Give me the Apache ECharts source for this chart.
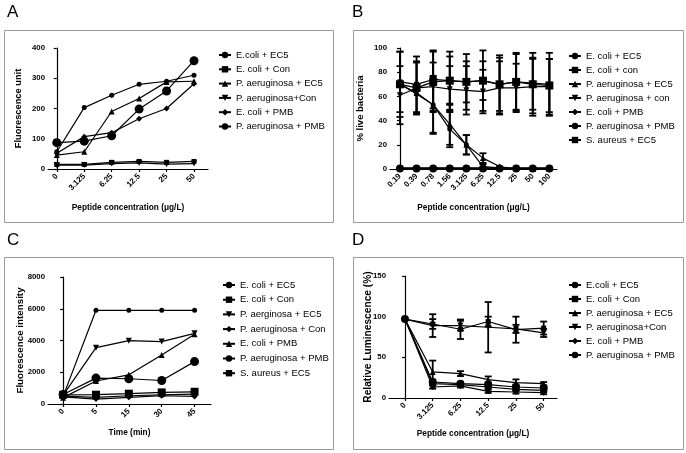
<!DOCTYPE html>
<html><head><meta charset="utf-8">
<script src="https://cdn.jsdelivr.net/npm/echarts@6/dist/echarts.min.js"></script>
<style>html,body{margin:0;padding:0;background:#fff}#c{width:686px;height:453px}</style>
</head><body><div id="c"></div>
<script>
// ---------- Panel A ----------
const aCats = ['0','3.125','6.25','12.5','25','50'];
const aEcoliEC5 = [57, 203, 244, 280, 290, 310];
const aEcoliCon = [15, 15, 22, 25, 22, 25];
const aPaeEC5   = [46, 57, 190, 233, 288, 290];
const aPaeCon   = [13, 13, 18, 20, 16, 18];
const aEcoliPMB = [52, 107, 120, 166, 200, 282];
const aPaePMB   = [87, 92, 110, 198, 258, 358];
const aYTicks = [0, 100, 200, 300, 400];

// ---------- Panel B ----------
const bCats = ['0.19','0.39','0.78','1.56','3.125','6.25','12.5','25','50','100'];
const bEcoliEC5 = [70, 62, 53, 33, 20, 2, 1, 0, 0, 0];
const bEcoliEC5Err = [0, 0, 24, 15, 8, 2, 1, 0, 0, 0];
const bEcoliCon = [72, 70, 74, 73, 72, 73, 70, 72, 71, 70];
const bEcoliConErr = [25, 23, 24, 24, 23, 25, 24, 24, 25, 26];
const bPaeEC5 = [70, 63, 53, 37, 20, 9, 2, 0, 0, 0];
const bPaeEC5Err = [0, 0, 23, 17, 8, 4, 0, 0, 0, 0];
const bPaeCon = [61, 67, 68, 66, 65, 64, 67, 67, 68, 68];
const bPaeConErr = [24, 22, 20, 19, 20, 18, 22, 20, 24, 23];
const bEcoliPMB = [1, 1, 1, 1, 1, 1, 1, 1, 1, 1];
const bPaePMB = [0.5, 0.5, 0.5, 0.5, 0.5, 0.5, 0.5, 0.5, 0.5, 0.5];
const bSaurEC5 = [70, 67, 72, 73, 72, 73, 70, 72, 70, 69];
const bSaurEC5Err = [27, 21, 25, 20, 17, 16, 22, 23, 21, 22];
const bYTicks = [0, 20, 40, 60, 80, 100];

// ---------- Panel C ----------
const cCats = ['0','5','15','30','45'];
const cEcoliEC5 = [480, 5900, 5900, 5900, 5900];
const cEcoliCon = [500, 420, 520, 580, 620];
const cPaeEC5   = [560, 3550, 3990, 3930, 4450];
const cPaeCon   = [450, 310, 420, 520, 480];
const cEcoliPMB = [400, 1450, 1840, 3090, 4390];
const cPaePMB   = [600, 1630, 1590, 1480, 2670];
const cSaurEC5  = [580, 585, 650, 730, 770];
const cYTicks = [0, 2000, 4000, 6000, 8000];

// ---------- Panel D ----------
const dCats = ['0','3.125','6.25','12.5','25','50'];
const dEcoliEC5 = [97, 17.6, 16.4, 13.5, 10.7, 9.4];
const dEcoliEC5Err = [0, 2, 2, 2, 2, 2];
const dEcoliCon = [97, 91, 84.5, 94, 84, 86];
const dEcoliConErr = [0, 6, 12, 6, 16, 8];
const dPaeEC5 = [97, 32, 30, 22.5, 18.9, 17.6];
const dPaeEC5Err = [0, 14, 3, 4, 4, 2];
const dPaeCon = [97, 89, 89, 87, 85, 80];
const dPaeConErr = [0, 14, 6, 31, 5, 5];
const dEcoliPMB = [97, 13.5, 14.8, 8.2, 7.4, 6.6];
const dEcoliPMBErr = [0, 2, 2, 2, 2, 2];
const dPaePMB = [97, 19.7, 17.6, 16.4, 13.5, 12.3];
const dPaePMBErr = [0, 3, 2, 3, 3, 2];
const dYTicks = [0, 50, 100, 150];

const FONT = '"Liberation Sans", Arial, sans-serif';
const DOWN = 'path://M0,0L10,0L5,9Z';

const panels = [
  {key:'A', grid:{left:48, top:48, width:160, height:121}, cats:aCats, min:-0.32, max:5.51, yt:aYTicks,
   yname:'Fluorescence unit', ygap:25, ysize:9.3, xname:'Peptide concentration (\u03bcg/L)', xgap:35,
   legend:{left:218, top:50, gap:4.3},
   series:[
    {name:'E.coli + EC5', data:aEcoliEC5, sym:'circle', size:5},
    {name:'E. coli + Con', data:aEcoliCon, sym:'rect', size:5},
    {name:'P. aeruginosa + EC5', data:aPaeEC5, sym:'triangle', size:6},
    {name:'P. aeruginosa+Con', data:aPaeCon, sym:DOWN, size:6},
    {name:'E. coli + PMB', data:aEcoliPMB, sym:'diamond', size:6},
    {name:'P. aeruginosa + PMB', data:aPaePMB, sym:'circle', size:9}
   ]},
  {key:'B', grid:{left:390, top:48, width:167, height:121}, cats:bCats, min:-0.6, max:9.46, yt:bYTicks,
   yname:'% live bacteria', ygap:25, ysize:9.5, xname:'Peptide concentration (\u03bcg/L)', xgap:35,
   legend:{left:568, top:51, gap:4},
   series:[
    {name:'E. coli + EC5', data:bEcoliEC5, err:bEcoliEC5Err, sym:'circle', size:5},
    {name:'E. coli + con', data:bEcoliCon, err:bEcoliConErr, sym:'rect', size:5},
    {name:'P. aeruginosa + EC5', data:bPaeEC5, err:bPaeEC5Err, sym:'triangle', size:6},
    {name:'P. aeruginosa + con', data:bPaeCon, err:bPaeConErr, sym:DOWN, size:6},
    {name:'E. coli + PMB', data:bEcoliPMB, sym:'diamond', size:6},
    {name:'P. aeruginosa + PMB', data:bPaePMB, sym:'circle', size:8},
    {name:'S. aureus + EC5', data:bSaurEC5, err:bSaurEC5Err, sym:'rect', size:8}
   ]},
  {key:'C', grid:{left:48, top:277, width:163, height:127}, cats:cCats, min:-0.46, max:4.5, yt:cYTicks,
   yname:'Fluorescence intensity', ygap:23, ysize:9.8, xname:'Time (min)', xgap:25,
   legend:{left:222, top:280, gap:4.7},
   series:[
    {name:'E. coli + EC5', data:cEcoliEC5, sym:'circle', size:5},
    {name:'E. coli + Con', data:cEcoliCon, sym:'rect', size:5},
    {name:'P. aerginosa + EC5', data:cPaeEC5, sym:DOWN, size:6},
    {name:'P. aeruginosa + Con', data:cPaeCon, sym:'diamond', size:6},
    {name:'E. coli + PMB', data:cEcoliPMB, sym:'triangle', size:6},
    {name:'P. aeruginosa + PMB', data:cPaePMB, sym:'circle', size:9},
    {name:'S. aureus + EC5', data:cSaurEC5, sym:'rect', size:8}
   ]},
  {key:'D', grid:{left:389, top:276, width:168, height:122}, cats:dCats, min:-0.575, max:5.48, yt:dYTicks,
   yname:'Relative Luminescence (%)', ygap:16, ysize:10.2, xname:'Peptide concentration (\u03bcg/L)', xgap:32,
   legend:{left:568, top:280, gap:4},
   series:[
    {name:'E.coli + EC5', data:dEcoliEC5, err:dEcoliEC5Err, sym:'circle', size:5},
    {name:'E. coli + Con', data:dEcoliCon, err:dEcoliConErr, sym:'rect', size:5},
    {name:'P. aeruginosa + EC5', data:dPaeEC5, err:dPaeEC5Err, sym:'triangle', size:6},
    {name:'P. aeruginosa+Con', data:dPaeCon, err:dPaeConErr, sym:DOWN, size:6},
    {name:'E. coli + PMB', data:dEcoliPMB, err:dEcoliPMBErr, sym:'diamond', size:6},
    {name:'P. aeruginosa + PMB', data:dPaePMB, err:dPaePMBErr, sym:'circle', size:8}
   ]}
];

function errRender(params, api){
  const x = api.value(0), y = api.value(1), e = api.value(2);
  if (!e) return;
  const t = api.coord([x, y + e]);
  const b = api.coord([x, Math.max(0, y - e)]);
  const w = 3.5;
  const st = {stroke:'#000', lineWidth:1.8};
  return {type:'group', children:[
    {type:'line', shape:{x1:t[0], y1:t[1], x2:b[0], y2:b[1]}, style:st},
    {type:'line', shape:{x1:t[0]-w, y1:t[1], x2:t[0]+w, y2:t[1]}, style:st},
    {type:'line', shape:{x1:b[0]-w, y1:b[1], x2:b[0]+w, y2:b[1]}, style:st}
  ]};
}

const grids = [], xAxes = [], yAxes = [], legends = [], series = [];
panels.forEach((p, i) => {
  grids.push(Object.assign({containLabel:false}, p.grid));
  const idx = p.cats.map((_, k) => k);
  xAxes.push({
    type:'value', gridIndex:i, min:p.min, max:p.max,
    name:p.xname, nameLocation:'middle', nameGap:p.xgap, nameMoveOverlap:false,
    nameTextStyle:{fontFamily:FONT, fontWeight:'bold', fontSize:8.3, color:'#000'},
    axisLine:{show:true, lineStyle:{color:'#000', width:1.2}},
    axisTick:{show:true, customValues:idx, length:3, lineStyle:{color:'#000', width:1.2}},
    axisLabel:{customValues:idx, rotate:45, margin:6, fontFamily:FONT, fontWeight:'bold', fontSize:8, color:'#000',
      formatter:(v) => p.cats[Math.round(v)]},
    splitLine:{show:false}
  });
  yAxes.push({
    type:'value', gridIndex:i, min:p.yt[0], max:p.yt[p.yt.length-1], interval:p.yt[1]-p.yt[0],
    name:p.yname, nameLocation:'middle', nameGap:p.ygap, nameRotate:90, nameMoveOverlap:false,
    nameTextStyle:{fontFamily:FONT, fontWeight:'bold', fontSize:p.ysize, color:'#000'},
    axisLine:{show:true, lineStyle:{color:'#000', width:1.2}},
    axisTick:{show:true, length:3, lineStyle:{color:'#000', width:1.2}},
    axisLabel:{margin:3, fontFamily:FONT, fontWeight:'bold', fontSize:7.8, color:'#000',
      formatter:(v) => String(v)},
    splitLine:{show:false}
  });
  legends.push({
    orient:'vertical', left:p.legend.left, top:p.legend.top, padding:0,
    itemWidth:12, itemHeight:8, itemGap:p.legend.gap,
    data:p.series.map(s => p.key + '|' + s.name),
    formatter:(n) => n.split('|')[1],
    textStyle:{fontFamily:FONT, fontSize:9.5, lineHeight:10, color:'#000', padding:[0,0,0,0]},
    selectedMode:false
  });
  p.series.forEach((s, k) => {
    series.push({
      type:'line', name:p.key + '|' + s.name, xAxisIndex:i, yAxisIndex:i,
      data:s.data.map((v, j) => [j, v]),
      symbol:s.sym, symbolSize:s.size, showAllSymbol:true,
      lineStyle:{color:'#000', width:1.2}, itemStyle:{color:'#000', borderWidth:0},
      z: 3, animation:false
    });
    if (s.err) {
      series.push({
        type:'custom', name:p.key + '|err' + k, xAxisIndex:i, yAxisIndex:i,
        data:s.data.map((v, j) => [j, v, s.err[j]]),
        encode:{x:0, y:1}, renderItem:errRender, z:2, animation:false, silent:true
      });
    }
  });
});

const boxStyle = {fill:'none', stroke:'#9a9a9a', lineWidth:1};
const letterStyle = (t) => ({text:t, fill:'#000', font:'17px ' + FONT});
const graphic = [
  {type:'rect', shape:{x:4.5, y:30.5, width:329, height:192}, style:boxStyle, silent:true},
  {type:'rect', shape:{x:353.5, y:30.5, width:330, height:192}, style:boxStyle, silent:true},
  {type:'rect', shape:{x:4.5, y:257.5, width:329, height:192}, style:boxStyle, silent:true},
  {type:'rect', shape:{x:353.5, y:257.5, width:330, height:192}, style:boxStyle, silent:true},
  {type:'text', left:7, top:4, style:letterStyle('A')},
  {type:'text', left:352, top:4, style:letterStyle('B')},
  {type:'text', left:7, top:232, style:letterStyle('C')},
  {type:'text', left:352, top:232, style:letterStyle('D')}
];

const chart = echarts.init(document.getElementById('c'), null, {renderer:'canvas'});
chart.setOption({
  animation:false, backgroundColor:'#fff',
  grid:grids, xAxis:xAxes, yAxis:yAxes, legend:legends, series:series, graphic:graphic
});
</script></body></html>
